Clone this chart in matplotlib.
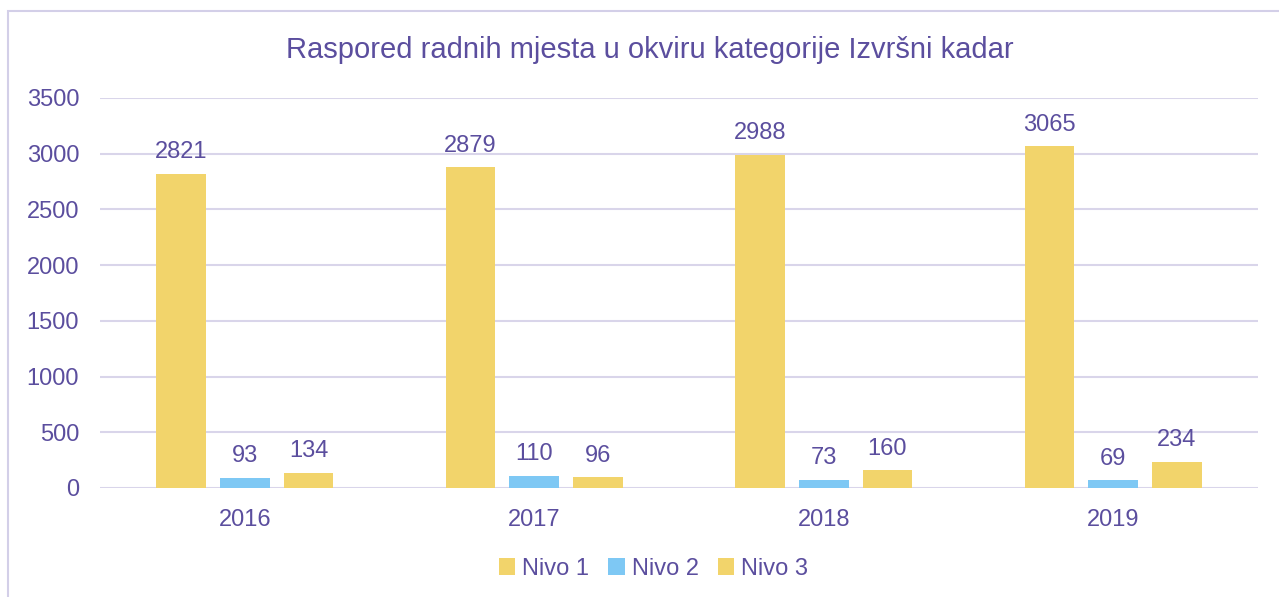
import matplotlib
matplotlib.use("Agg")
import matplotlib.pyplot as plt
import numpy as np
from matplotlib.patches import Rectangle

years  = ["2016", "2017", "2018", "2019"]
nivo1  = [2821, 2879, 2988, 3065]
nivo2  = [93, 110, 73, 69]
nivo3  = [134, 96, 160, 234]
labels = ["Nivo 1", "Nivo 2", "Nivo 3"]

YELLOW = "#F2D46B"
BLUE   = "#7EC8F4"
TEXT   = "#5B4E9E"
GRID   = "#D9D5EA"

plt.rcParams["font.family"] = ["Liberation Sans", "DejaVu Sans"]

fig = plt.figure(figsize=(12.79, 5.97), dpi=100)
# light frame around the chart area (cut off at right/bottom like the source)
fig.patches.append(Rectangle((8/1279, -0.1), 1.2, 1 - 11/597 + 0.1,
                             transform=fig.transFigure, fill=False,
                             edgecolor="#D3CFE8", linewidth=1.5))
ax = fig.add_axes([100/1279, 1 - 488/597, 1158/1279, 390/597])

x = np.arange(len(years))
w, off = 0.172, 0.22
series = [(nivo1, YELLOW), (nivo2, BLUE), (nivo3, YELLOW)]
for i, ((vals, col), lab) in enumerate(zip(series, labels)):
    bars = ax.bar(x + (i - 1) * off, vals, width=w, color=col, label=lab, zorder=3)
    for b, v in zip(bars, vals):
        ax.text(b.get_x() + b.get_width()/2, v + 95, str(v), ha="center",
                va="bottom", fontsize=17, color=TEXT)

ax.set_xlim(-0.5, 3.5)
ax.set_ylim(0, 3500)
ax.set_yticks(range(0, 3501, 500))
ax.set_xticks(x)
ax.set_xticklabels(years)
ax.tick_params(axis="both", length=0, labelsize=17, labelcolor=TEXT)
ax.tick_params(axis="y", pad=15)
ax.tick_params(axis="x", pad=15)
ax.grid(axis="y", color=GRID, linewidth=1.5, zorder=0)
for s in ax.spines.values():
    s.set_visible(False)

fig.text(0.508, 1 - 50/597, "Raspored radnih mjesta u okviru kategorije Izvršni kadar",
         ha="center", va="center", fontsize=21, color=TEXT)

fig.legend(loc="center", bbox_to_anchor=(0.511, 1 - 569/597), ncol=3,
           frameon=False, fontsize=17, handlelength=0.7, handleheight=0.7,
           handletextpad=0.3, columnspacing=0.8, labelcolor=TEXT)

fig.savefig("out.png", dpi=100)
